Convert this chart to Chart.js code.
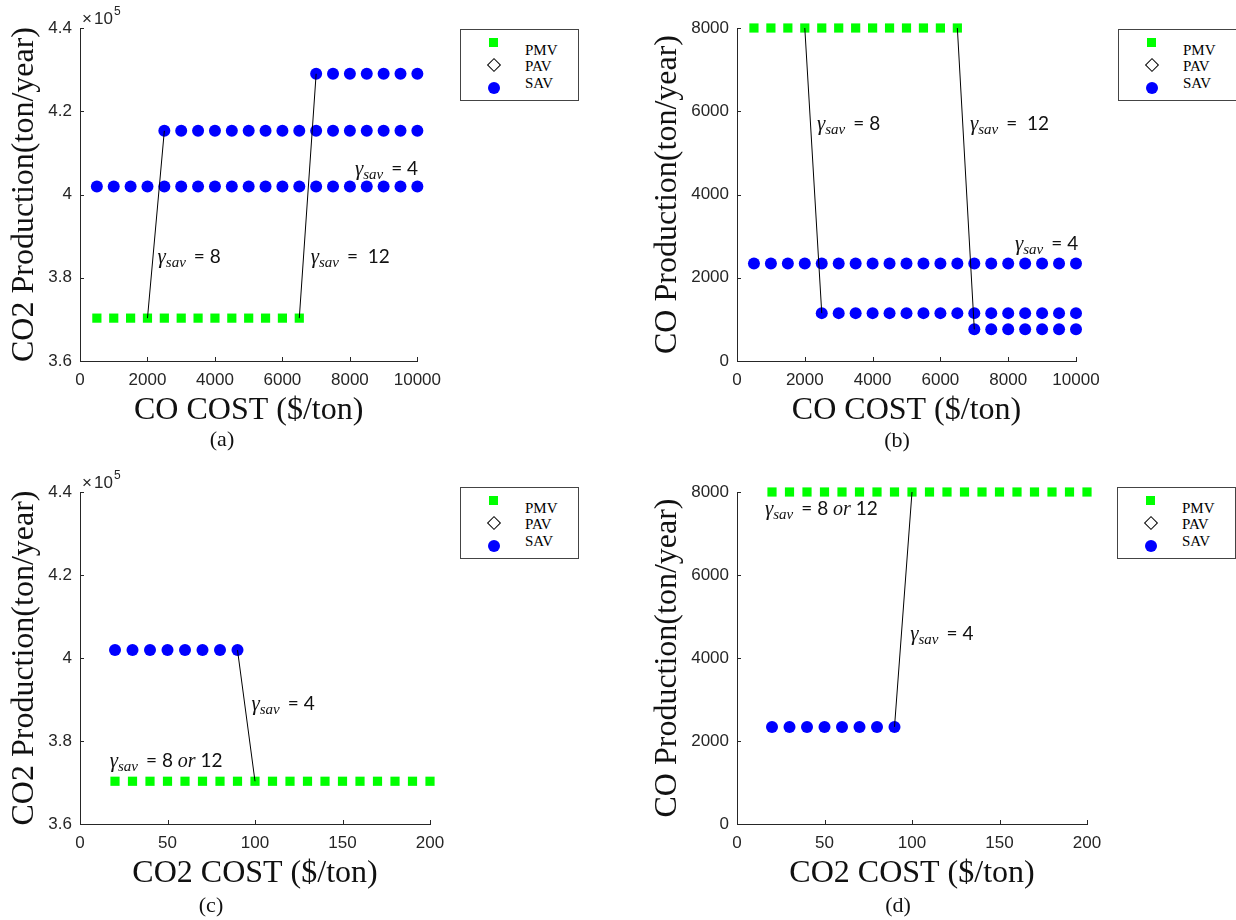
<!DOCTYPE html>
<html lang="en">
<head>
<meta charset="UTF-8">
<title>CO / CO2 production versus cost</title>
<script src="https://cdn.jsdelivr.net/npm/chart.js"></script>
<style>
    body {
        margin: 0;
        width: 1236px;
        height: 920px;
        background: #fff;
        position: relative;
        overflow: hidden;
        font-family: 'Liberation Serif', 'Times New Roman', serif;
    }
    canvas { position: absolute; }
    .cap {
        position: absolute;
        font-size: 22px;
        color: #111;
        transform: translate(-50%, -50%);
    }
    .legend {
        position: absolute;
        box-sizing: border-box;
        width: 119px;
        height: 72px;
        border: 1px solid #444;
        background: #fff;
    }
    .legend .mk { position: absolute; box-sizing: border-box; }
    .legend .sq { width: 9px; height: 9px; background: #00ff00; }
    .legend .dm { width: 10px; height: 10px; border: 1.5px solid #000; background: #fff; transform: rotate(45deg); }
    .legend .ci { width: 12px; height: 12px; border-radius: 50%; background: #0000ff; }
    .legend .lt { position: absolute; left: 64px; font-size: 15px; line-height: 16px; color: #000; }
</style>
</head>
<body>

<canvas id="chartA" width="450" height="460" style="left:0;top:0"></canvas>
<canvas id="chartB" width="470" height="460" style="left:643px;top:0"></canvas>
<canvas id="chartC" width="460" height="460" style="left:0;top:460px"></canvas>
<canvas id="chartD" width="470" height="460" style="left:643px;top:460px"></canvas>

<div class="cap" style="left:222px;top:439px">(a)</div>
<div class="cap" style="left:897px;top:440px">(b)</div>
<div class="cap" style="left:211px;top:905px">(c)</div>
<div class="cap" style="left:898px;top:905px">(d)</div>

<div id="legends"></div>

<script>
// ---- data ----
const seriesNames = ['PMV', 'PAV', 'SAV'];

// CO cost axis ($/ton), panels (a) and (b)
const coCostAll  = [500, 1000, 1500, 2000, 2500, 3000, 3500, 4000, 4500, 5000, 5500, 6000, 6500, 7000, 7500, 8000, 8500, 9000, 9500, 10000];
const coCostPmv  = [500, 1000, 1500, 2000, 2500, 3000, 3500, 4000, 4500, 5000, 5500, 6000, 6500];
const coCostMid  = [2500, 3000, 3500, 4000, 4500, 5000, 5500, 6000, 6500, 7000, 7500, 8000, 8500, 9000, 9500, 10000];
const coCostHigh = [7000, 7500, 8000, 8500, 9000, 9500, 10000];

// CO2 cost axis ($/ton), panels (c) and (d)
const co2CostAll = [20, 30, 40, 50, 60, 70, 80, 90, 100, 110, 120, 130, 140, 150, 160, 170, 180, 190, 200];
const co2CostSav = [20, 30, 40, 50, 60, 70, 80, 90];

// (a) CO2 production (ton/year) vs CO cost
const aPmv     = [370300, 370300, 370300, 370300, 370300, 370300, 370300, 370300, 370300, 370300, 370300, 370300, 370300];
const aSavG4   = [401900, 401900, 401900, 401900, 401900, 401900, 401900, 401900, 401900, 401900, 401900, 401900, 401900, 401900, 401900, 401900, 401900, 401900, 401900, 401900];
const aSavG8   = [415300, 415300, 415300, 415300, 415300, 415300, 415300, 415300, 415300, 415300, 415300, 415300, 415300, 415300, 415300, 415300];
const aSavG12  = [429000, 429000, 429000, 429000, 429000, 429000, 429000];

// (b) CO production (ton/year) vs CO cost
const bPmv     = [8000, 8000, 8000, 8000, 8000, 8000, 8000, 8000, 8000, 8000, 8000, 8000, 8000];
const bSavG4   = [2340, 2340, 2340, 2340, 2340, 2340, 2340, 2340, 2340, 2340, 2340, 2340, 2340, 2340, 2340, 2340, 2340, 2340, 2340, 2340];
const bSavG8   = [1150, 1150, 1150, 1150, 1150, 1150, 1150, 1150, 1150, 1150, 1150, 1150, 1150, 1150, 1150, 1150];
const bSavG12  = [760, 760, 760, 760, 760, 760, 760];

// (c) CO2 production vs CO2 cost
const cPmv     = [370300, 370300, 370300, 370300, 370300, 370300, 370300, 370300, 370300, 370300, 370300, 370300, 370300, 370300, 370300, 370300, 370300, 370300, 370300];
const cSav     = [401900, 401900, 401900, 401900, 401900, 401900, 401900, 401900];

// (d) CO production vs CO2 cost
const dPmv     = [8000, 8000, 8000, 8000, 8000, 8000, 8000, 8000, 8000, 8000, 8000, 8000, 8000, 8000, 8000, 8000, 8000, 8000, 8000];
const dSav     = [2340, 2340, 2340, 2340, 2340, 2340, 2340, 2340];

// connector lines [x1, y1, x2, y2]
const aLinks = [[2000, 370300, 2500, 415300], [6500, 370300, 7000, 429000]];
const bLinks = [[2000, 8000, 2500, 1150], [6500, 8000, 7000, 760]];
const cLinks = [[90, 401900, 100, 370300]];
const dLinks = [[90, 2340, 100, 8000]];

// gamma labels [x, y, text after "γsav"]
const aNotes = [[2300, 384700, '= 8'], [6840, 384700, '=  12'], [8150, 405900, '= 4']];
const bNotes = [[2360, 5670, '= 8'], [6870, 5670, '=  12'], [8200, 2790, '= 4']];
const cNotes = [[98, 388700, '= 4'], [17, 374900, '= 8 or 12']];
const dNotes = [[16, 7570, '= 8 or 12'], [99, 4550, '= 4']];

const axisColor = '#262626';

function pts(xs, ys) {
    return xs.map((x, i) => ({ x: x, y: ys[i] }));
}

// small inward tick marks, MATLAB style
const innerTicks = {
    id: 'innerTicks',
    afterDraw(chart) {
        const { ctx, chartArea, scales } = chart;
        ctx.save();
        ctx.strokeStyle = axisColor;
        ctx.lineWidth = 1;
        ctx.beginPath();
        scales.x.ticks.forEach(t => {
            const px = Math.round(scales.x.getPixelForValue(t.value)) + 0.5;
            ctx.moveTo(px, chartArea.bottom);
            ctx.lineTo(px, chartArea.bottom - 4);
        });
        scales.y.ticks.forEach(t => {
            const py = Math.round(scales.y.getPixelForValue(t.value)) + 0.5;
            ctx.moveTo(chartArea.left, py);
            ctx.lineTo(chartArea.left + 4, py);
        });
        ctx.stroke();

        const opts = chart.options.plugins.innerTicks;
        if (opts && opts.exponent) {
            // x10^5 multiplier above the y axis
            const l = chartArea.left, tp = chartArea.top;
            ctx.fillStyle = axisColor;
            ctx.textBaseline = 'alphabetic';
            ctx.textAlign = 'left';
            ctx.font = '17px "Liberation Sans"';
            ctx.fillText('\u00d7', l + 2, tp - 4);
            ctx.fillText('10', l + 14, tp - 4);
            ctx.font = '12px "Liberation Sans"';
            ctx.fillText(opts.exponent, l + 34, tp - 13);
        }
        ctx.restore();
    }
};

// gamma_sav annotations
const gammaNotes = {
    id: 'gammaNotes',
    afterDatasetsDraw(chart) {
        const notes = chart.options.plugins.gammaNotes.items;
        const { ctx, scales } = chart;
        ctx.save();
        ctx.fillStyle = '#111';
        ctx.textAlign = 'left';
        ctx.textBaseline = 'alphabetic';
        notes.forEach(n => {
            let x = scales.x.getPixelForValue(n[0]);
            const base = scales.y.getPixelForValue(n[1]) + 5;
            ctx.font = 'italic 21px "Liberation Serif"';
            ctx.fillText('\u03b3', x, base);
            x += ctx.measureText('\u03b3').width;
            ctx.font = 'italic 15px "Liberation Serif"';
            ctx.fillText('sav', x, base + 4);
            x += ctx.measureText('sav').width + 8;
            const words = n[2].split(/( +)/);
            words.forEach(w => {
                ctx.font = w === 'or' ? 'italic 20px "Liberation Serif"' : '19px Lato';
                ctx.fillText(w, x, base);
                x += ctx.measureText(w).width;
            });
        });
        ctx.restore();
    }
};

function makeChart(id, o) {
    const datasets = [];
    o.links.forEach(l => {
        datasets.push({
            label: 'link', data: [{ x: l[0], y: l[1] }, { x: l[2], y: l[3] }],
            showLine: true, borderColor: '#000', borderWidth: 1, pointRadius: 0, order: 0, clip: false
        });
    });
    datasets.push({
        label: seriesNames[0], data: o.pmv, pointStyle: 'rect', pointRadius: 6.5,
        pointBackgroundColor: '#00ff00', pointBorderWidth: 0, order: 1, clip: false
    });
    datasets.push({
        label: seriesNames[1], data: [], pointStyle: 'rectRot', pointRadius: 6,
        pointBackgroundColor: '#fff', pointBorderColor: '#000', order: 1, clip: false
    });
    o.sav.forEach(s => {
        datasets.push({
            label: seriesNames[2], data: s, pointStyle: 'circle', pointRadius: 6,
            pointBackgroundColor: '#0000ff', pointBorderWidth: 0, order: 1, clip: false
        });
    });

    const tickFont = { family: 'Liberation Sans', size: 17 };
    const titleFont = { family: 'Liberation Serif', size: 32 };

    return new Chart(document.getElementById(id), {
        type: 'scatter',
        data: { datasets: datasets },
        options: {
            responsive: false,
            animation: false,
            layout: { padding: o.pad },
            plugins: {
                legend: { display: false },
                tooltip: { enabled: false },
                gammaNotes: { items: o.notes },
                innerTicks: { exponent: o.exponent }
            },
            scales: {
                x: {
                    type: 'linear', min: 0, max: o.xMax,
                    ticks: { stepSize: o.xStep, color: axisColor, font: tickFont, padding: 9, maxRotation: 0,
                             callback: v => String(v) },
                    grid: { display: false, drawTicks: false },
                    border: { display: true, color: axisColor, width: 1 },
                    title: { display: true, text: o.xTitle, color: '#111', font: titleFont, padding: { top: 0, bottom: 1 } },
                    afterFit: s => { s.height = 70; }
                },
                y: {
                    type: 'linear', min: o.yMin, max: o.yMax,
                    ticks: { stepSize: o.yStep, color: axisColor, font: tickFont, padding: 8,
                             callback: v => String(parseFloat((v / o.yDiv).toFixed(2))) },
                    grid: { display: false, drawTicks: false },
                    border: { display: true, color: axisColor, width: 1 },
                    title: { display: true, text: o.yTitle, color: '#111', font: titleFont, padding: { top: 5, bottom: 0 } },
                    afterFit: s => { s.width = o.yWidth; }
                }
            }
        },
        plugins: [innerTicks, gammaNotes]
    });
}

makeChart('chartA', {
    pmv: pts(coCostPmv, aPmv),
    sav: [pts(coCostAll, aSavG4), pts(coCostMid, aSavG8), pts(coCostHigh, aSavG12)],
    links: aLinks, notes: aNotes,
    xMax: 10000, xStep: 2000, yMin: 360000, yMax: 440000, yStep: 20000, yDiv: 1e5, exponent: '5',
    xTitle: 'CO COST ($/ton)', yTitle: 'CO2 Production(ton/year)',
    pad: { left: 0, top: 28, right: 31, bottom: 29 }, yWidth: 80
});

makeChart('chartB', {
    pmv: pts(coCostPmv, bPmv),
    sav: [pts(coCostAll, bSavG4), pts(coCostMid, bSavG8), pts(coCostHigh, bSavG12)],
    links: bLinks, notes: bNotes,
    xMax: 10000, xStep: 2000, yMin: 0, yMax: 8000, yStep: 2000, yDiv: 1, exponent: null,
    xTitle: 'CO COST ($/ton)', yTitle: 'CO Production(ton/year)',
    pad: { left: 0, top: 28, right: 37, bottom: 29 }, yWidth: 94
});

makeChart('chartC', {
    pmv: pts(co2CostAll, cPmv),
    sav: [pts(co2CostSav, cSav)],
    links: cLinks, notes: cNotes,
    xMax: 200, xStep: 50, yMin: 360000, yMax: 440000, yStep: 20000, yDiv: 1e5, exponent: '5',
    xTitle: 'CO2 COST ($/ton)', yTitle: 'CO2 Production(ton/year)',
    pad: { left: 0, top: 32, right: 30, bottom: 26 }, yWidth: 80
});

makeChart('chartD', {
    pmv: pts(co2CostAll, dPmv),
    sav: [pts(co2CostSav, dSav)],
    links: dLinks, notes: dNotes,
    xMax: 200, xStep: 50, yMin: 0, yMax: 8000, yStep: 2000, yDiv: 1, exponent: null,
    xTitle: 'CO2 COST ($/ton)', yTitle: 'CO Production(ton/year)',
    pad: { left: 0, top: 32, right: 26, bottom: 26 }, yWidth: 94
});

// legends, one per panel, placed outside the plots
const legendSpots = [[460, 29], [1118, 29], [460, 487], [1117, 487]];
const markerClass = ['sq', 'dm', 'ci'];
const markerTop = [8, 30, 52];
const textTop = [12, 28, 45];
const holder = document.getElementById('legends');
legendSpots.forEach(p => {
    const box = document.createElement('div');
    box.className = 'legend';
    box.style.left = p[0] + 'px';
    box.style.top = p[1] + 'px';
    seriesNames.forEach((name, i) => {
        const mk = document.createElement('span');
        mk.className = 'mk ' + markerClass[i];
        mk.style.top = markerTop[i] + 'px';
        mk.style.left = (i === 2 ? 27 : 28) + 'px';
        box.appendChild(mk);
        const lt = document.createElement('span');
        lt.className = 'lt';
        lt.style.top = textTop[i] + 'px';
        lt.textContent = name;
        box.appendChild(lt);
    });
    holder.appendChild(box);
});
</script>

</body>
</html>
